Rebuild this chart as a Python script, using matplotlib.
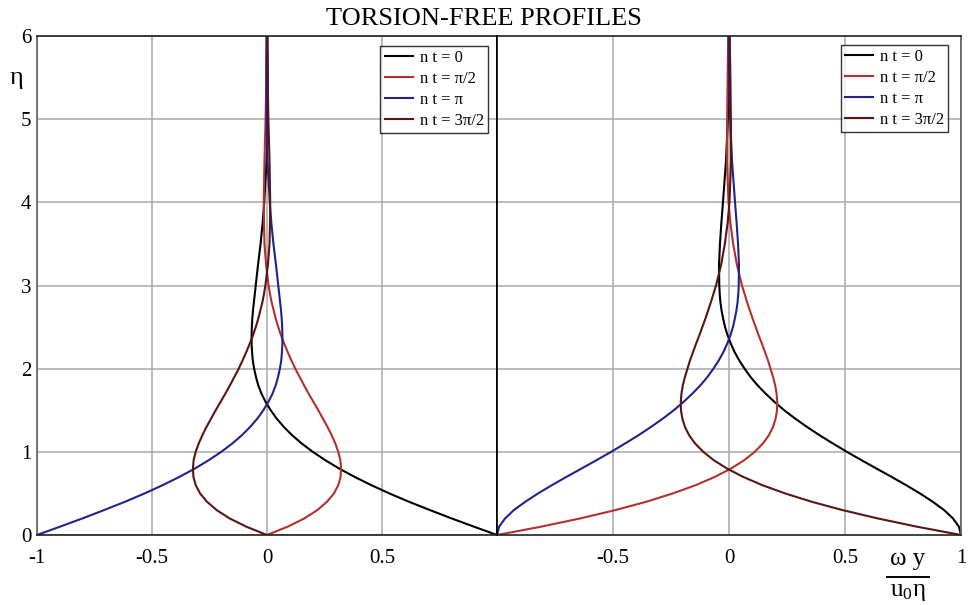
import matplotlib
matplotlib.use("Agg")
import matplotlib.pyplot as plt
from matplotlib.lines import Line2D

plt.rcParams['font.family'] = ['Liberation Serif', 'DejaVu Serif']
plt.rcParams['mathtext.fontset'] = 'custom'
plt.rcParams['mathtext.rm'] = 'Liberation Serif'

eta = [0.0, 0.1, 0.2, 0.3, 0.4, 0.5, 0.6, 0.7, 0.8, 0.9, 1.0,
       1.1, 1.2, 1.3, 1.4, 1.5, 1.6, 1.7, 1.8, 1.9, 2.0,
       2.1, 2.2, 2.3, 2.4, 2.5, 2.6, 2.7, 2.8, 2.9, 3.0,
       3.25, 3.5, 3.75, 4.0, 4.5, 5.0, 5.5, 6.0]

# left panel
left_nt0 = [1.000, 0.900, 0.802, 0.708, 0.617, 0.532, 0.453, 0.380, 0.313, 0.253, 0.199,
            0.151, 0.109, 0.073, 0.042, 0.016, -0.006, -0.024, -0.038, -0.048, -0.056,
            -0.062, -0.065, -0.067, -0.067, -0.066, -0.064, -0.061, -0.057, -0.053, -0.049,
            -0.039, -0.028, -0.019, -0.012, -0.002, 0.002, 0.003, 0.002]
left_nt_half = [0.000, 0.090, 0.163, 0.219, 0.261, 0.291, 0.310, 0.320, 0.322, 0.319, 0.310,
                0.297, 0.281, 0.263, 0.243, 0.223, 0.202, 0.181, 0.161, 0.142, 0.123,
                0.106, 0.090, 0.075, 0.061, 0.049, 0.038, 0.029, 0.020, 0.013, 0.007,
                -0.004, -0.011, -0.013, -0.014, -0.011, -0.006, -0.003, -0.001]
left_nt_pi = [-1.000, -0.900, -0.802, -0.708, -0.617, -0.532, -0.453, -0.380, -0.313, -0.253, -0.199,
              -0.151, -0.109, -0.073, -0.042, -0.016, 0.006, 0.024, 0.038, 0.048, 0.056,
              0.062, 0.065, 0.067, 0.067, 0.066, 0.064, 0.061, 0.057, 0.053, 0.049,
              0.039, 0.028, 0.019, 0.012, 0.002, -0.002, -0.003, -0.002]
left_nt_3half = [0.000, -0.090, -0.163, -0.219, -0.261, -0.291, -0.310, -0.320, -0.322, -0.319, -0.310,
                 -0.297, -0.281, -0.263, -0.243, -0.223, -0.202, -0.181, -0.161, -0.142, -0.123,
                 -0.106, -0.090, -0.075, -0.061, -0.049, -0.038, -0.029, -0.020, -0.013, -0.007,
                 0.004, 0.011, 0.013, 0.014, 0.011, 0.006, 0.003, 0.001]

# right panel
right_nt0 = [1.000, 0.991, 0.965, 0.927, 0.878, 0.823, 0.763, 0.700, 0.635, 0.571, 0.508,
             0.448, 0.390, 0.336, 0.285, 0.238, 0.196, 0.158, 0.123, 0.093, 0.067,
             0.044, 0.024, 0.008, -0.006, -0.017, -0.025, -0.032, -0.037, -0.040, -0.042,
             -0.043, -0.039, -0.033, -0.026, -0.013, -0.005, 0.000, 0.002]
right_nt_half = [-1.000, -0.810, -0.640, -0.489, -0.356, -0.242, -0.143, -0.060, 0.009, 0.066, 0.111,
                 0.146, 0.172, 0.190, 0.201, 0.207, 0.208, 0.205, 0.199, 0.190, 0.179,
                 0.168, 0.155, 0.142, 0.128, 0.115, 0.102, 0.090, 0.078, 0.067, 0.056,
                 0.034, 0.018, 0.006, -0.002, -0.009, -0.008, -0.006, -0.003]
right_nt_pi = [-1.000, -0.991, -0.965, -0.927, -0.878, -0.823, -0.763, -0.700, -0.635, -0.571, -0.508,
               -0.448, -0.390, -0.336, -0.285, -0.238, -0.196, -0.158, -0.123, -0.093, -0.067,
               -0.044, -0.024, -0.008, 0.006, 0.017, 0.025, 0.032, 0.037, 0.040, 0.042,
               0.043, 0.039, 0.033, 0.026, 0.013, 0.005, 0.000, -0.002]
right_nt_3half = [1.000, 0.810, 0.640, 0.489, 0.356, 0.242, 0.143, 0.060, -0.009, -0.066, -0.111,
                  -0.146, -0.172, -0.190, -0.201, -0.207, -0.208, -0.205, -0.199, -0.190, -0.179,
                  -0.168, -0.155, -0.142, -0.128, -0.115, -0.102, -0.090, -0.078, -0.067, -0.056,
                  -0.034, -0.018, -0.006, 0.002, 0.009, 0.008, 0.006, 0.003]

labels = ['n t = 0', 'n t = π/2', 'n t = π', 'n t = 3π/2']
colors = ['#000000', '#b3302c', '#22228f', '#5a1414']

W, H = 968, 605
fig = plt.figure(figsize=(W / 100, H / 100), dpi=100)
fig.patch.set_facecolor('white')

def px_axes(x0, x1, y0, y1):
    return fig.add_axes([x0 / W, 1 - y1 / H, (x1 - x0) / W, (y1 - y0) / H])

ax1 = px_axes(37, 497, 36, 535)
ax2 = px_axes(497, 961, 36, 535)

panels = [
    (ax1, [left_nt0, left_nt_half, left_nt_pi, left_nt_3half], 0.980, 0.980),
    (ax2, [right_nt0, right_nt_half, right_nt_pi, right_nt_3half], 0.972, 0.982),
]

for ax, series, lx, ly in panels:
    for vals, c, lab in zip(series, colors, labels):
        ax.plot(vals, eta, color=c, lw=1.5, label=lab)
    ax.set_xlim(-1, 1)
    ax.set_ylim(0, 6)
    ax.set_xticks([-0.5, 0, 0.5])
    ax.set_yticks([1, 2, 3, 4, 5])
    ax.grid(True, color='#a8a8a8', lw=1.1)
    ax.set_axisbelow(True)
    ax.tick_params(length=0, labelsize=15)
    ax.tick_params(axis='x', pad=10)
    for s in ax.spines.values():
        s.set_color('#202020')
        s.set_linewidth(1.2)
    leg = ax.legend(loc='upper right', bbox_to_anchor=(lx, ly), borderaxespad=0,
                    fontsize=12, frameon=True, fancybox=False, handlelength=1.7,
                    handletextpad=0.4, labelspacing=0.3, borderpad=0.25)
    leg.get_frame().set_edgecolor('black')
    leg.get_frame().set_linewidth(1.0)

ax1.spines['left'].set_color('#606060')
ax1.spines['right'].set_color('black')
ax2.spines['left'].set_color('black')
ax2.spines['right'].set_color('#606060')

ax1.set_xticks([-1, -0.5, 0, 0.5])
ax1.set_xticklabels(['-1', '-0.5', '0', '0.5'])
ax1.set_yticks([0, 1, 2, 3, 4, 5, 6])
ax1.set_yticklabels(['0', '1', '2', '3', '4', '5', '6'])
ax1.tick_params(axis='y', labelsize=15, pad=4)

ax2.set_xticks([-0.5, 0, 0.5, 1])
ax2.set_xticklabels(['-0.5', '0', '0.5', '1'])
ax2.tick_params(axis='y', labelleft=False)

fig.text(484 / W, 1 - 19 / H, 'TORSION-FREE PROFILES', ha='center', va='center', fontsize=19)
fig.text(16 / W, 1 - 78 / H, 'η', ha='center', va='center', fontsize=19)

# x label as a fraction: omega y over u0 eta
fig.text(908 / W, 1 - 559 / H, 'ω y', ha='center', va='center', fontsize=18)
fig.add_artist(Line2D([887 / W, 929 / W], [1 - 577 / H, 1 - 577 / H],
                      transform=fig.transFigure, color='black', lw=1.4))
fig.text(908 / W, 1 - 592 / H, r'$\mathrm{u_0}$η', ha='center', va='center', fontsize=18)

fig.savefig('out.png', dpi=100)
